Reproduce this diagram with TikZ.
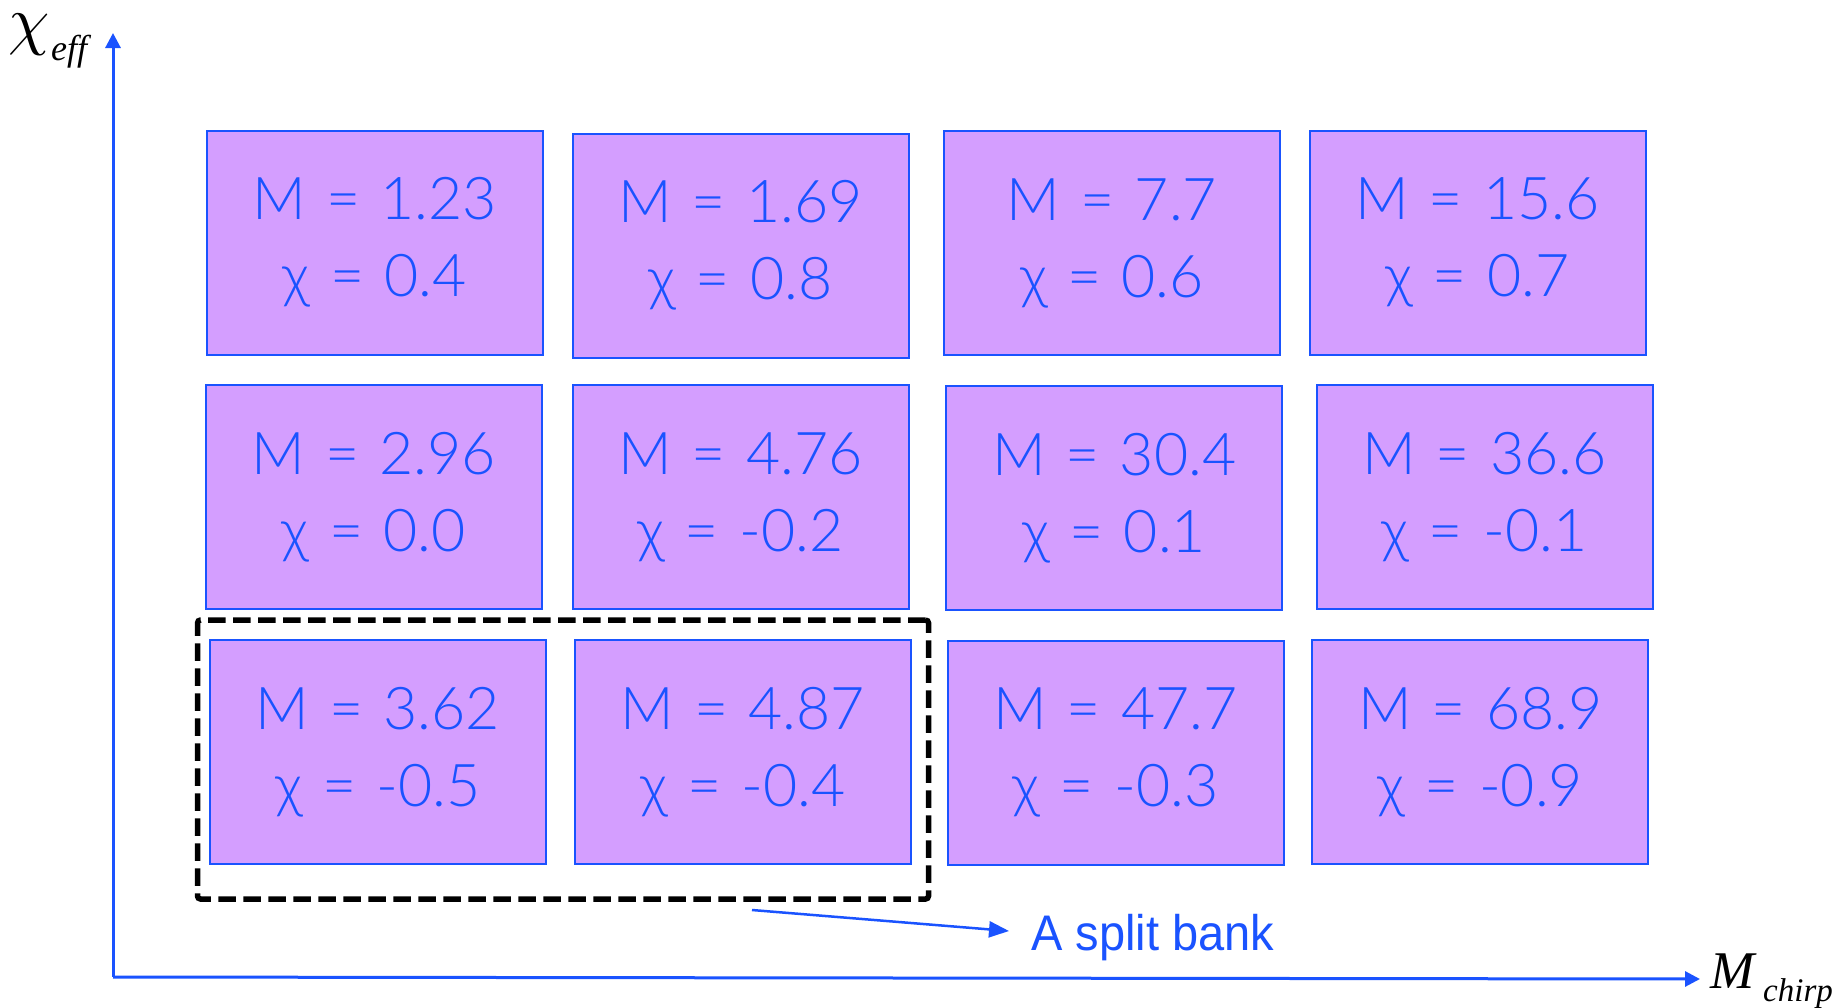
\documentclass[tikz,border=0pt]{standalone}
\usepackage{fontspec}
\usetikzlibrary{arrows.meta}
\IfFontExistsTF{Lato Light}
  {\newfontfamily\boxfont{Lato Light}[WordSpace=1.25]}
  {\newfontfamily\boxfont{Lato}[WordSpace=1.25]}
\newfontfamily\labelfont{Liberation Sans}[FakeStretch=0.94]
\newfontfamily\axisfont{Liberation Serif}
\definecolor{bankfill}{RGB}{212,158,255}
\definecolor{bankblue}{RGB}{26,83,255}

\begin{document}
\begin{tikzpicture}[x=1pt,y=-1pt,
  bankbox/.style={draw=bankblue, line width=2pt, fill=bankfill,
    minimum width=336pt, minimum height=224pt, inner sep=0pt,
    align=center, text=bankblue,
    font=\boxfont\fontsize{59}{77}\selectfont},
  splitbox/.style={draw=black, line width=5.5pt, dash pattern=on 17.5pt off 7.5pt,
    rounded corners=3pt, minimum width=731pt, minimum height=279pt, inner sep=0pt},
  axisline/.style={draw=bankblue, line width=3pt,
    -{Triangle[length=15pt,width=15pt]}},
  pointer/.style={draw=bankblue, line width=2.5pt,
    -{Triangle[length=20pt,width=16pt]}},
  axislabel/.style={anchor=base west, inner sep=0pt, text=black}]

  % canvas
  \fill[white] (0,0) rectangle (1843,1007);
  \useasboundingbox (0,0) rectangle (1843,1007);

  % axes
  \coordinate (origin) at (113,977);
  \coordinate (ytip) at (113,33);
  \coordinate (xtip) at (1700,979);
  \draw[axisline] (origin) -- (ytip);
  \draw[axisline] (origin) -- (xtip);

  \node[axislabel] (chiLbl) at (8,42) {\scalebox{6.6}{$\chi$}};
  \node[axislabel, font=\axisfont\itshape\fontsize{36}{36}\selectfont] (effLbl) at (51,60) {eff};
  \node[axislabel, font=\axisfont\itshape\fontsize{53}{53}\selectfont] (mLbl) at (1710,988) {M};
  \node[axislabel, font=\axisfont\itshape\fontsize{33}{33}\selectfont] (chirpLbl) at (1763,1001) {chirp};

  % template banks, top row
  \node[bankbox] (b1) at (374.7,242.6) {M = 1.23\\χ = 0.4};
  \node[bankbox] (b2) at (740.5,245.7) {M = 1.69\\χ = 0.8};
  \node[bankbox] (b3) at (1112,243.3) {M = 7.7\\χ = 0.6};
  \node[bankbox] (b4) at (1477.5,242.8) {M = 15.6\\χ = 0.7};
  % middle row
  \node[bankbox] (b5) at (373.8,497.2) {M = 2.96\\χ = 0.0};
  \node[bankbox] (b6) at (740.5,497.2) {M = 4.76\\χ = -0.2};
  \node[bankbox] (b7) at (1114.3,498.4) {M = 30.4\\χ = 0.1};
  \node[bankbox] (b8) at (1484.5,497.2) {M = 36.6\\χ = -0.1};
  % bottom row
  \node[bankbox] (b9) at (377.9,752.3) {M = 3.62\\χ = -0.5};
  \node[bankbox] (b10) at (742.9,752.3) {M = 4.87\\χ = -0.4};
  \node[bankbox] (b11) at (1115.5,752.8) {M = 47.7\\χ = -0.3};
  \node[bankbox] (b12) at (1480.4,752.3) {M = 68.9\\χ = -0.9};

  % split bank outline and label
  \node[splitbox] (split) at (563,759.5) {};
  \node[anchor=base west, inner sep=0pt, text=bankblue,
    font=\labelfont\fontsize{50}{50}\selectfont] (splitLbl) at (1031,950) {A split bank};
  \coordinate (ptrTail) at (752,910);
  \coordinate (ptrHead) at (1009,931);
  \draw[pointer] (ptrTail) -- (ptrHead);
\end{tikzpicture}
\end{document}
